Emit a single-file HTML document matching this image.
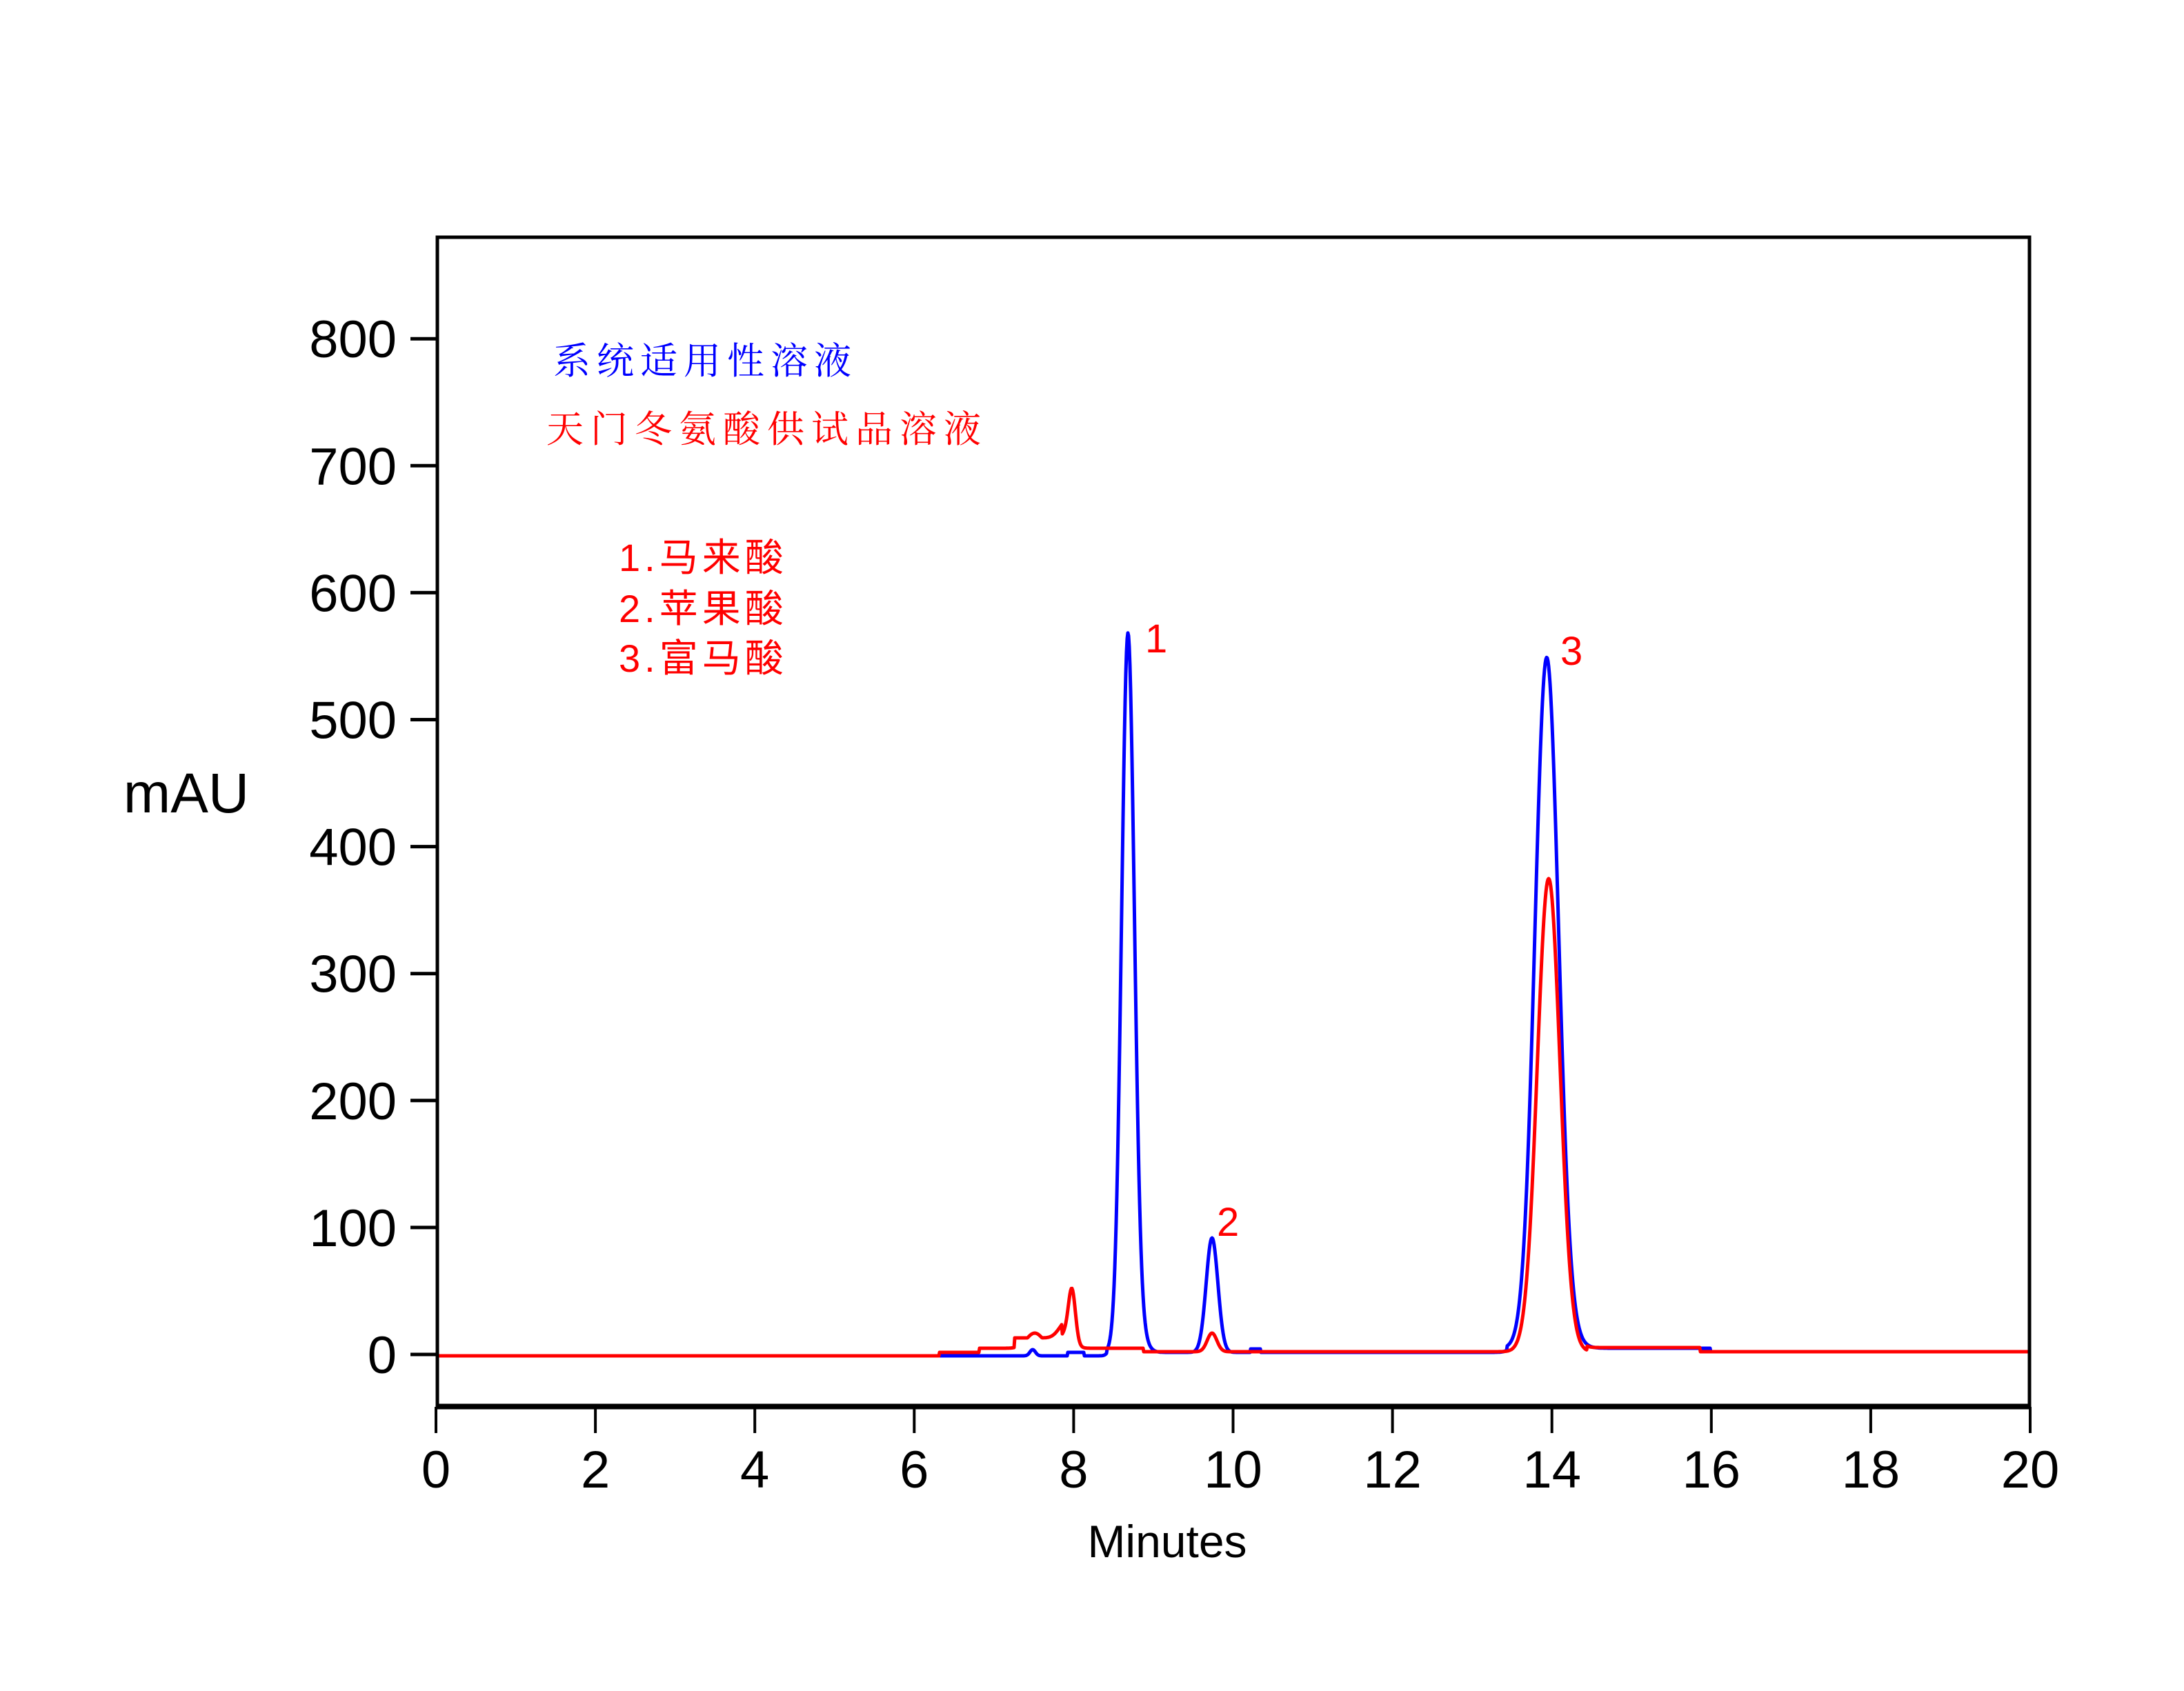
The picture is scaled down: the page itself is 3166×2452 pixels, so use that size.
<!DOCTYPE html>
<html><head><meta charset="utf-8">
<style>
html,body{margin:0;padding:0;background:#fff;}
svg{display:block}
text{font-family:"Liberation Sans",Arial,sans-serif}
.cn{font-family:"Liberation Serif","Noto Serif CJK SC","Noto Sans CJK SC",serif}
</style></head>
<body>
<svg id="s" width="3166" height="2452" viewBox="0 0 3166 2452" xmlns="http://www.w3.org/2000/svg">
<rect width="3166" height="2452" fill="#fff"/>
<g id="traces" fill="none" stroke-width="5" stroke-linejoin="round"></g>
<rect x="634" y="344" width="2308" height="1694" fill="none" stroke="#000" stroke-width="5"/>
<line x1="632" y1="2040" x2="2944" y2="2040" stroke="#000" stroke-width="7"/>
<g stroke="#000" stroke-width="5" id="yt"></g>
<g stroke="#000" stroke-width="4" id="xt"></g>
<g font-size="76" text-anchor="end" id="yl"></g>
<g font-size="76" text-anchor="middle" id="xl"></g>
<text x="1692" y="2258" font-size="66" text-anchor="middle">Minutes</text>
<text x="270" y="1178" font-size="82" text-anchor="middle">mAU</text>
<text class="cn" x="802" y="542" font-size="54" fill="#0000ff" letter-spacing="9">系统适用性溶液</text>
<text class="cn" x="792" y="641" font-size="54" fill="#ff0000" letter-spacing="10">天门冬氨酸供试品溶液</text>
<g class="cn" font-size="56" fill="#ff0000" letter-spacing="6">
<text x="897" y="828">1.马来酸</text>
<text x="897" y="902">2.苹果酸</text>
<text x="897" y="974">3.富马酸</text>
</g>
<g font-size="58" fill="#ff0000">
<text x="1660" y="946">1</text>
<text x="1764" y="1792">2</text>
<text x="2262" y="964">3</text>
</g>
</svg>
<script>
(function(){
var NS="http://www.w3.org/2000/svg";
function el(p,n,a,t){var e=document.createElementNS(NS,n);for(var k in a)e.setAttribute(k,a[k]);if(t!==undefined)e.textContent=t;p.appendChild(e);return e;}
var X0=632,XS=115.55,Y0=1964,YS=1.841;
var yt=document.getElementById('yt'),yl=document.getElementById('yl');
for(var v=0;v<=800;v+=100){var y=Y0-v*YS;el(yt,'line',{x1:595,y1:y,x2:634,y2:y});el(yl,'text',{x:575,y:y+27},String(v));}
var xt=document.getElementById('xt'),xl=document.getElementById('xl');
for(var m=0;m<=20;m+=2){var x=X0+m*XS;el(xt,'line',{x1:x,y1:2040,x2:x,y2:2078});el(xl,'text',{x:x,y:2157},String(m));}
function g(x,c,h,s){var d=(x-c)/s;return h*Math.exp(-0.5*d*d);}
function red(px){
 var b;
 if(px<1362)b=1966;else if(px<1420)b=1961;else if(px<1658)b=1955;else if(px<2465)b=1960;else b=1960;
 if(px>2300&&px<2465)b=1954;
 var u=0;
 u+=g(px,1500,22,12);
 if(px>1470&&px<1540)u=Math.max(u,15);
 u+=g(px,1554,72,5)+g(px,1545,22,10);
 u+=g(px,1757,27,7);
 u+=g(px,2245,686,16.5);
 return b-u;
}
function blue(px){
 var b;
 if(px<1548)b=1966;else if(px<1572)b=1961;else if(px<1605)b=1966;else if(px<2185)b=1961;else if(px<2480)b=1955;else b=1960;
 if(px>1812&&px<1828)b=1956;
 var u=0;
 u+=g(px,1497,9,4);
 u+=g(px,1635,1015,9.2)+g(px,1645,40,12);
 u+=g(px,1757,166,8.5);
 u+=g(px,2242,985,17)+g(px,2260,25,20);
 return b-u;
}
function path(f,x1,x2){var d='';for(var px=x1;px<=x2;px+=1){var y=f(px);d+=(px==x1?'M':'L')+px+' '+y.toFixed(1);}return d;}
var tr=document.getElementById('traces');
el(tr,'path',{d:path(blue,1362,2940),stroke:'#0000ff'});
el(tr,'path',{d:path(red,634,2940),stroke:'#ff0000'});
})();
</script>
</body></html>
